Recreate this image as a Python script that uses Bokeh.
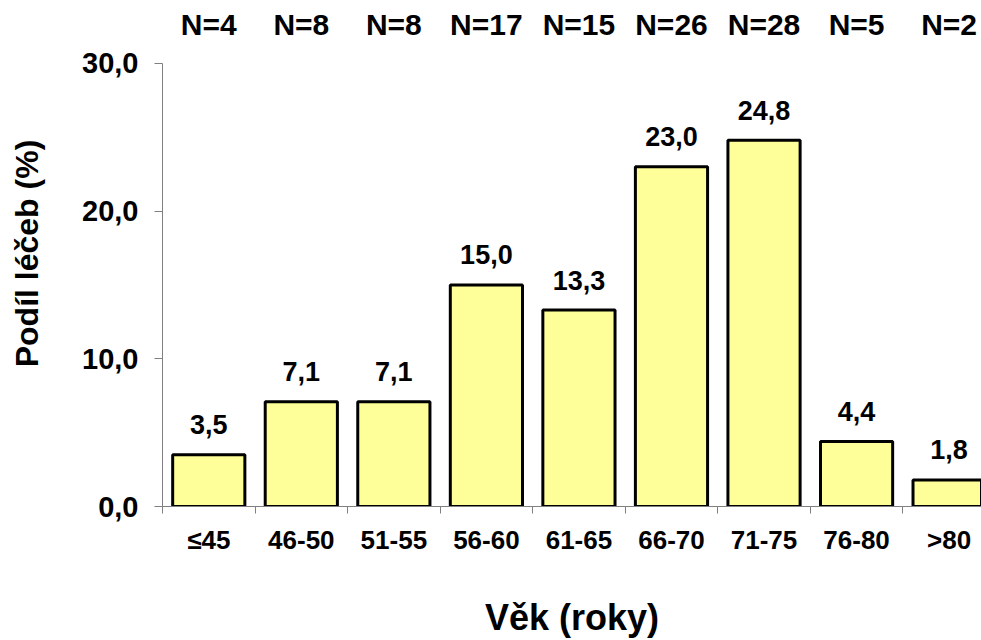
from bokeh.plotting import figure
from bokeh.models import Range1d, FixedTicker, ColumnDataSource
from bokeh.core.properties import value
from bokeh.embed import file_html
from bokeh.resources import INLINE

categories = ["≤45", "46-50", "51-55", "56-60", "61-65", "66-70", "71-75", "76-80", ">80"]
shares = [3.5, 7.1, 7.1, 15.0, 13.3, 23.0, 24.8, 4.4, 1.8]
share_labels = ["3,5", "7,1", "7,1", "15,0", "13,3", "23,0", "24,8", "4,4", "1,8"]
n_labels = ["N=4", "N=8", "N=8", "N=17", "N=15", "N=26", "N=28", "N=5", "N=2"]
y_ticks = [0, 10, 20, 30]
y_tick_labels = ["0,0", "10,0", "20,0", "30,0"]

FONT = "Liberation Sans"
n = len(categories)
centers = [i + 0.5 for i in range(n)]
bounds_x = [float(i) for i in range(n + 1)]
y_end = 34.26

p = figure(width=981, height=640, x_range=Range1d(0, 8.85), y_range=Range1d(0, y_end),
           output_backend="svg", toolbar_location=None,
           min_border_left=162, min_border_right=0, min_border_top=0, min_border_bottom=133)
p.outline_line_color = None
p.grid.visible = False

src = ColumnDataSource(dict(x=centers, top=shares, vlab=share_labels, nlab=n_labels,
                            ytop=[y_end] * n))

p.vbar(x="x", top="top", bottom=0, width=0.78, fill_color="#FFFF99",
       line_color="black", line_width=3, source=src)

p.text(x="x", y="top", text="vlab", text_font=value(FONT), text_font_style="bold",
       text_font_size="27px", text_align="center", text_baseline="alphabetic",
       y_offset=-30, text_color="black", source=src)
p.text(x="x", y="ytop", text="nlab", text_font=value(FONT), text_font_style="bold",
       text_font_size="30px", text_align="center", text_baseline="alphabetic",
       y_offset=24, text_color="black", source=src)

xa = p.xaxis[0]
xa.ticker = FixedTicker(ticks=centers, minor_ticks=bounds_x)
xa.major_label_overrides = {c: lab for c, lab in zip(centers, categories)}
xa.major_tick_out = 0
xa.major_tick_in = 0
xa.minor_tick_out = 7
xa.minor_tick_in = 0
xa.axis_line_color = "#808080"
xa.minor_tick_line_color = "#808080"
xa.major_label_text_font = FONT
xa.major_label_text_font_style = "bold"
xa.major_label_text_font_size = "26px"
xa.major_label_text_color = "black"
xa.major_label_standoff = 11
xa.axis_label = "Věk (roky)"
xa.axis_label_text_font = FONT
xa.axis_label_text_font_style = "bold"
xa.axis_label_text_font_size = "36px"
xa.axis_label_text_color = "black"
xa.axis_label_standoff = 39

ya = p.yaxis[0]
ya.ticker = FixedTicker(ticks=y_ticks, minor_ticks=[])
ya.major_label_overrides = {t: lab for t, lab in zip(y_ticks, y_tick_labels)}
ya.bounds = (0, 30)
ya.major_tick_out = 8
ya.major_tick_in = 0
ya.minor_tick_out = 0
ya.minor_tick_in = 0
ya.axis_line_color = "#808080"
ya.major_tick_line_color = "#808080"
ya.major_label_text_font = FONT
ya.major_label_text_font_style = "bold"
ya.major_label_text_font_size = "29px"
ya.major_label_text_color = "black"
ya.major_label_standoff = 16
ya.axis_label = "Podíl léčeb (%)"
ya.axis_label_text_font = FONT
ya.axis_label_text_font_style = "bold"
ya.axis_label_text_font_size = "32px"
ya.axis_label_text_color = "black"
ya.axis_label_standoff = 34

open("out.html", "w").write(file_html(p, INLINE))
